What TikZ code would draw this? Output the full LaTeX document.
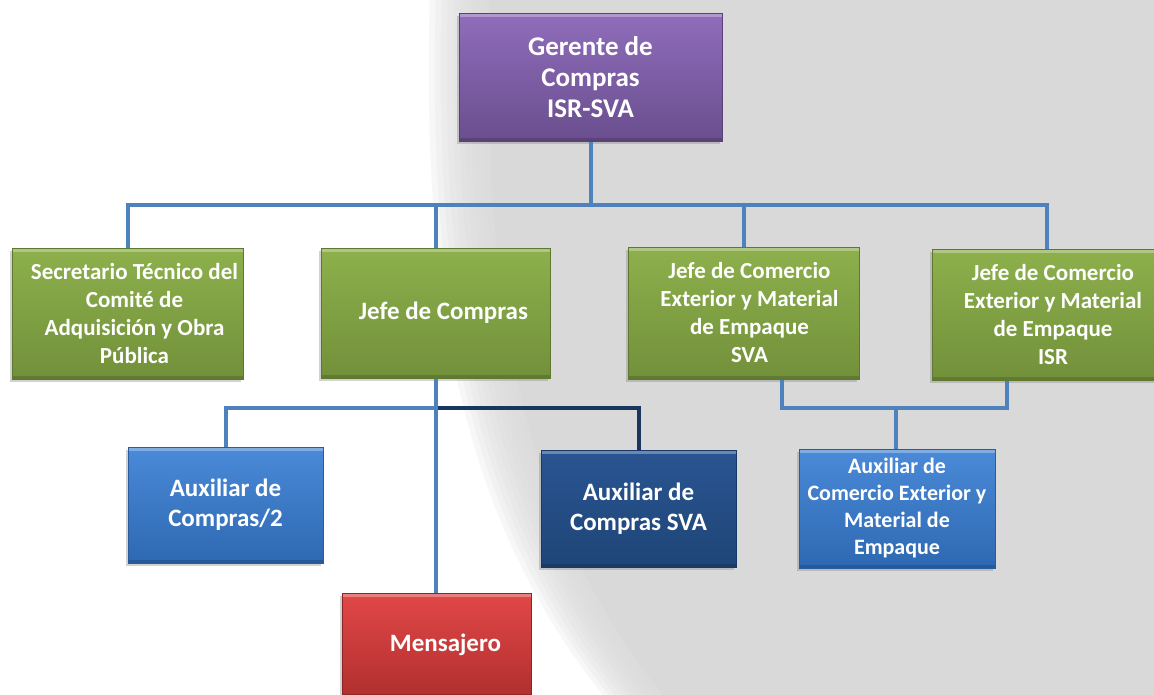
\documentclass[tikz,border=0pt]{standalone}
\usepackage{fontspec}
\setmainfont{Carlito}
\usetikzlibrary{shadows,calc}
\definecolor{bggray}{HTML}{D9D9D9}
\definecolor{ptop}{HTML}{8F6DBB}
\definecolor{pbot}{HTML}{6A4E8E}
\definecolor{pline}{HTML}{5A4278}
\definecolor{gtop}{HTML}{8DB04C}
\definecolor{gbot}{HTML}{72903A}
\definecolor{gline}{HTML}{5E7830}
\definecolor{btop}{HTML}{4A8AD8}
\definecolor{bbot}{HTML}{2E68B2}
\definecolor{bline}{HTML}{285C9C}
\definecolor{ntop}{HTML}{2A5592}
\definecolor{nbot}{HTML}{1E4577}
\definecolor{nline}{HTML}{183A66}
\definecolor{rtop}{HTML}{E24848}
\definecolor{rbot}{HTML}{B02E2E}
\definecolor{rline}{HTML}{8E2424}
\definecolor{connblue}{HTML}{4F81BD}
\definecolor{conndark}{HTML}{17375E}
\tikzset{
  box/.style={rectangle, text=white, align=center, inner sep=0pt, line width=1pt,
    font=\bfseries\fontsize{23}{28}\selectfont,
    drop shadow={opacity=0.35, shadow xshift=-2pt, shadow yshift=-3pt},
    path picture={\draw[white, opacity=0.3, line width=3pt]
      ([yshift=-2pt]path picture bounding box.north west) -- ([yshift=-2pt]path picture bounding box.north east);
      \draw[black, opacity=0.15, line width=3pt]
      ([yshift=2pt]path picture bounding box.south west) -- ([yshift=2pt]path picture bounding box.south east);}},
  purplebox/.style={box, top color=ptop, bottom color=pbot, draw=pline,
    font=\bfseries\fontsize{27}{31}\selectfont},
  greenbox/.style={box, top color=gtop, bottom color=gbot, draw=gline},
  bluebox/.style={box, top color=btop, bottom color=bbot, draw=bline},
  navybox/.style={box, top color=ntop, bottom color=nbot, draw=nline},
  redbox/.style={box, top color=rtop, bottom color=rbot, draw=rline},
  bigtext/.style={font=\bfseries\fontsize{25}{30}\selectfont},
  conn/.style={draw=connblue, line width=4pt},
  darkconn/.style={draw=conndark, line width=4pt},
}
\begin{document}
\begin{tikzpicture}[x=1pt, y=-1pt]
\useasboundingbox (0,0) rectangle (1154,694);
\clip (0,0) rectangle (1154,694);
\fill[white] (0,0) rectangle (1154,694);
% soft gray background
\foreach \d in {-15,-9,-3,3,9,15,21,27,33,39} {
  \fill[bggray, opacity=0.2, xshift=\d pt] (445,-10) .. controls (436,300) and (475,520) .. (625,704) -- (1200,704) -- (1200,-10) -- cycle;
}
\fill[bggray, xshift=45pt] (445,-10) .. controls (436,300) and (475,520) .. (625,704) -- (1200,704) -- (1200,-10) -- cycle;

% bus coordinates
\coordinate (b1) at (590.5,205);
\coordinate (b2) at (436,408);
\coordinate (b3) at (896,408);

% nodes
\node[purplebox, minimum width=263, minimum height=128] (g) at (590.5,77) {Gerente de\\Compras\\ISR-SVA};
\node[greenbox, minimum width=231, minimum height=131] (sec) at (127.5,313.5) {\hspace{14pt}Secretario Técnico del\\\hspace{14pt}Comité de\\\hspace{14pt}Adquisición y Obra\\\hspace{14pt}Pública};
\node[greenbox, bigtext, minimum width=229, minimum height=130] (jc) at (435.5,313) {\hspace{16pt}Jefe de Compras};
\node[greenbox, minimum width=231, minimum height=132] (jsva) at (743.5,313) {\hspace{12pt}Jefe de Comercio\\\hspace{12pt}Exterior y Material\\\hspace{12pt}de Empaque\\\hspace{12pt}SVA};
\node[greenbox, minimum width=230, minimum height=131] (jisr) at (1047,314.5) {\hspace{12pt}Jefe de Comercio\\\hspace{12pt}Exterior y Material\\\hspace{12pt}de Empaque\\\hspace{12pt}ISR};
\node[bluebox, bigtext, minimum width=195, minimum height=116] (aux2) at (225.5,505) {Auxiliar de\\Compras/2};
\node[navybox, bigtext, minimum width=195, minimum height=117] (auxsva) at (638.5,508.5) {Auxiliar de\\Compras SVA};
\node[redbox, bigtext, minimum width=189, minimum height=104] (men) at (436.5,645) {\hspace{18pt}Mensajero};
\node[bluebox, font=\bfseries\fontsize{22}{27}\selectfont, minimum width=196, minimum height=119] (auxce) at (897,508.5) {Auxiliar de\\Comercio Exterior y\\Material de\\Empaque};

% connectors
\draw[conn] (g.south) -- (b1);
\draw[conn] (sec.north) |- (b1) -| (jisr.north);
\draw[conn] (jc.north) -- (jc.north |- b1);
\draw[conn] (jsva.north) -- (jsva.north |- b1);
\draw[conn] (aux2.north) |- (b2);
\draw[darkconn] (b2) -| (auxsva.north);
\draw[conn] (jc.south -| b2) -- (men.north -| b2);
\draw[conn] ($(jsva.south)+(38,0)$) |- (b3) -| ($(jisr.south)+(-40,0)$);
\draw[conn] (b3) -- (auxce.north -| b3);
\end{tikzpicture}
\end{document}
